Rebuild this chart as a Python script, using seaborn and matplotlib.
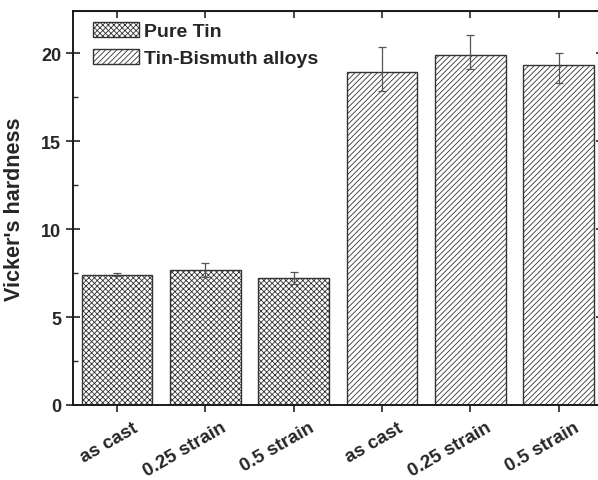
import numpy as np
import pandas as pd
import matplotlib
matplotlib.use("Agg")
import matplotlib.pyplot as plt
import matplotlib.transforms as mtransforms
from matplotlib.patches import Patch
from matplotlib.ticker import MultipleLocator
import seaborn as sns

# data
groups = ["Pure Tin", "Pure Tin", "Pure Tin",
          "Tin-Bismuth alloys", "Tin-Bismuth alloys", "Tin-Bismuth alloys"]
conditions = ["as cast", "0.25 strain", "0.5 strain",
              "as cast", "0.25 strain", "0.5 strain"]
hardness = [7.4, 7.7, 7.2, 18.95, 19.92, 19.34]
err_low = [0.08, 0.4, 0.3, 1.08, 0.79, 1.06]
err_high = [0.08, 0.38, 0.36, 1.38, 1.12, 0.70]

legend_labels = ["Pure Tin", "Tin-Bismuth alloys"]
hatches = {"Pure Tin": "xxxxxx", "Tin-Bismuth alloys": "//////"}

sns.set_style("ticks")
plt.rcParams["font.family"] = ["Liberation Sans", "DejaVu Sans"]
plt.rcParams["font.weight"] = "bold"
plt.rcParams["hatch.color"] = "#4a4a4a"
plt.rcParams["hatch.linewidth"] = 0.6

df = pd.DataFrame({
    "sample": [f"{g} {c}" for g, c in zip(groups, conditions)],
    "group": groups,
    "hardness": hardness,
})

fig = plt.figure(figsize=(5.98, 4.81), dpi=100)
ax = fig.add_axes([0.1221, 0.156, 0.886, 0.819])

sns.barplot(data=df, x="sample", y="hardness", hue="group", dodge=False,
            palette=["white", "white"], edgecolor="#333333", linewidth=1.0,
            width=0.8, legend=False, ax=ax)

bars = [p for p in ax.patches if p.get_height() > 0]
bars = sorted(bars, key=lambda p: p.get_x())
for p, g in zip(bars, groups):
    p.set_hatch(hatches[g])

xpos = np.arange(len(hardness))
ax.errorbar(xpos, hardness, yerr=[err_low, err_high], fmt="none",
            ecolor="#555555", elinewidth=0.9, capsize=3, capthick=0.9)

ax.set_xlim(-0.5, len(hardness) - 0.5)
ax.set_ylim(0, 22.4)
ax.yaxis.set_major_locator(MultipleLocator(5))
ax.yaxis.set_minor_locator(MultipleLocator(2.5))

ax.tick_params(axis="both", which="major", direction="inout", length=10,
               width=1.2, color="#222222", top=False, right=False)
ax.tick_params(axis="y", which="minor", direction="in", length=3.5,
               width=1.0, left=True, right=False)

ax.set_xlabel("")
ax.set_ylabel("Vicker's hardness", fontsize=15.5, fontweight="bold")
ax.yaxis.set_label_coords(-0.09, 0.5)
ax.set_xticks(xpos)
ax.set_xticklabels(conditions, rotation=30, ha="right", va="top",
                   rotation_mode="anchor", fontsize=13.5, fontweight="bold")
offset = mtransforms.ScaledTranslation(0.15, -0.02, fig.dpi_scale_trans)
for lab in ax.get_xticklabels():
    lab.set_transform(lab.get_transform() + offset)
for lab in ax.get_yticklabels():
    lab.set_fontsize(13)
    lab.set_fontweight("bold")

# top and right ticks point inward
sec_x = ax.secondary_xaxis("top")
sec_x.set_xticks(xpos)
sec_x.set_xticklabels([])
sec_x.tick_params(direction="in", length=5, width=1.2)
sec_y = ax.secondary_yaxis("right")
sec_y.yaxis.set_major_locator(MultipleLocator(5))
sec_y.yaxis.set_minor_locator(MultipleLocator(2.5))
sec_y.set_yticklabels([])
sec_y.tick_params(which="major", direction="in", length=5, width=1.2)
sec_y.tick_params(which="minor", direction="in", length=3.5, width=1.0)

for s in ax.spines.values():
    s.set_linewidth(1.4)
    s.set_color("#1a1a1a")

handles = [Patch(facecolor="white", edgecolor="#333333", hatch=hatches[g],
                 linewidth=1.0, label=g) for g in legend_labels]
ax.legend(handles=handles, loc="upper left", bbox_to_anchor=(0.017, 1.0),
          frameon=False, handlelength=2.4, handleheight=0.8,
          handletextpad=0.25, labelspacing=0.45, borderaxespad=0.15,
          prop={"weight": "bold", "size": 14})

fig.savefig("out.png", dpi=100)
